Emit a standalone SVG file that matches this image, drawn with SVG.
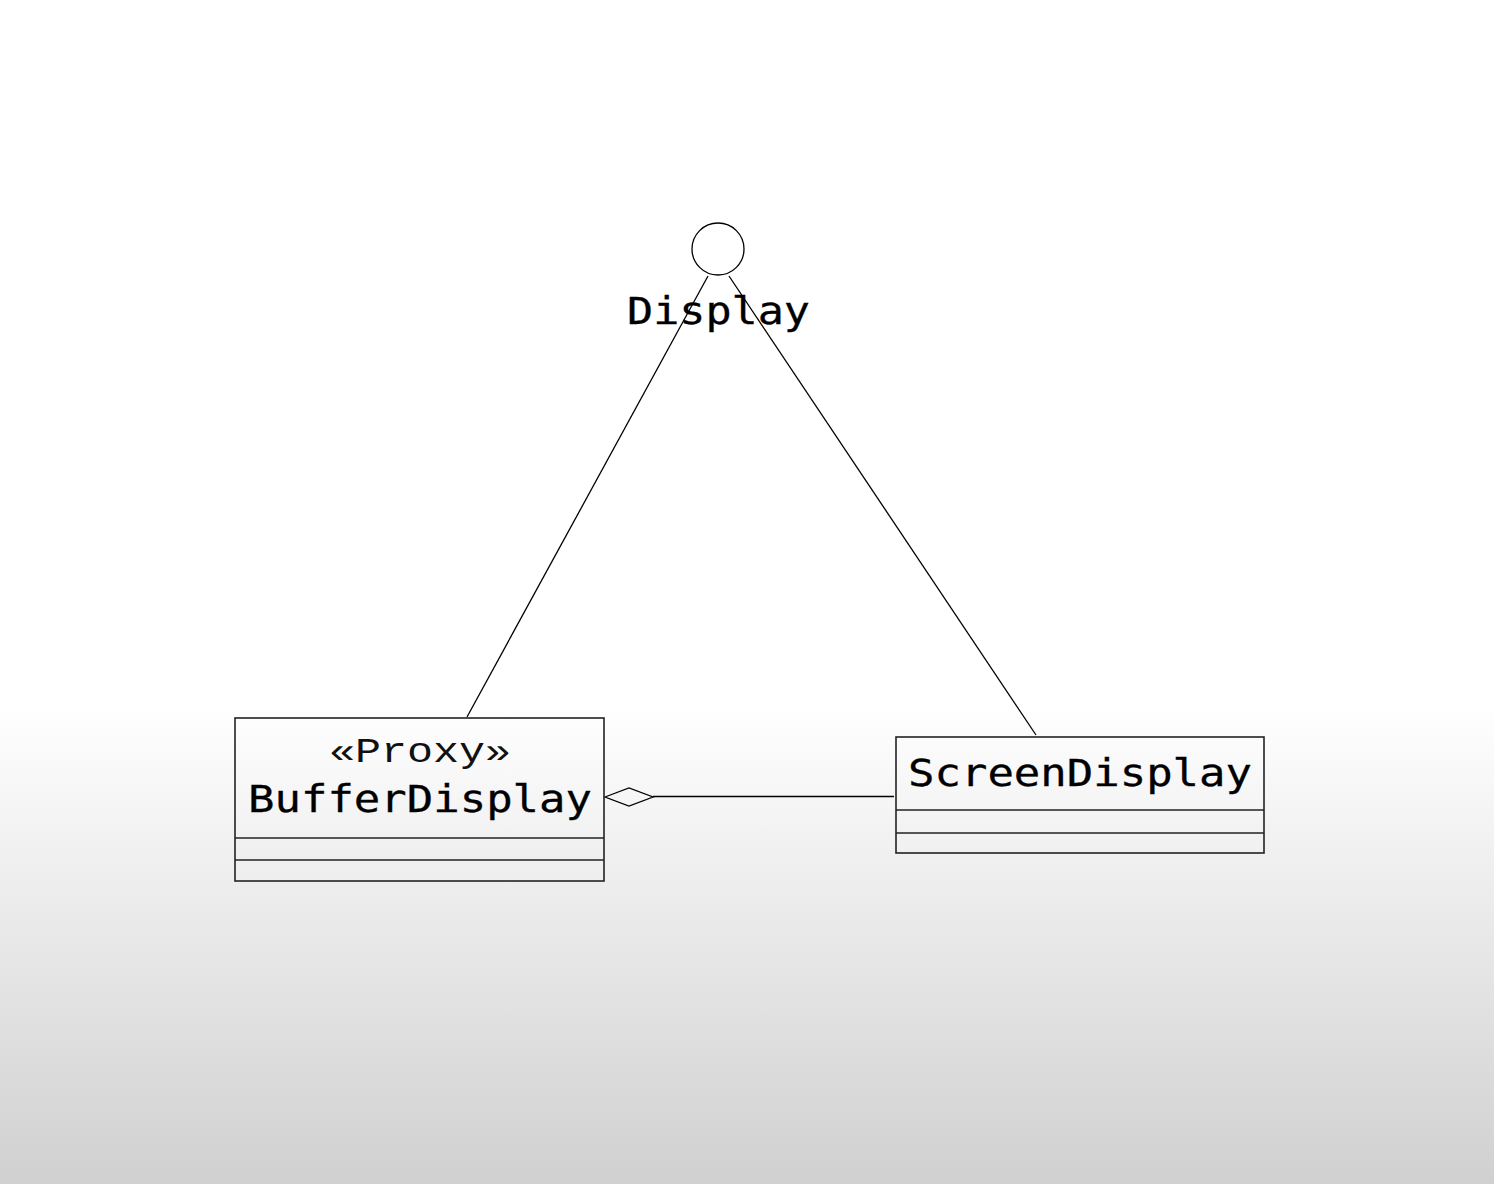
<svg xmlns="http://www.w3.org/2000/svg" width="1494" height="1184" viewBox="0 0 1494 1184">
  <defs>
    <linearGradient id="bg" x1="0" y1="0" x2="0" y2="1">
      <stop offset="0" stop-color="#ffffff"/>
      <stop offset="0.594" stop-color="#ffffff"/>
      <stop offset="1" stop-color="#d0d0d0"/>
    </linearGradient>
  </defs>
  <style>
    .ln { stroke: #000; stroke-width: 1.3; fill: none; }
    .box { stroke: #222; stroke-width: 1.6; fill: none; }
    .name { font-family: "DejaVu Sans Mono", "Liberation Mono", monospace; font-size: 37px; fill: #000; stroke: #000; stroke-width: 0.3; }
    .stereo { font-family: "Liberation Mono", "DejaVu Sans Mono", monospace; font-size: 35px; fill: #111; }
  </style>
  <rect x="0" y="0" width="1494" height="1184" fill="url(#bg)"/>

  <g id="connectors">
    <line class="ln" x1="708" y1="276" x2="467" y2="717"/>
    <line class="ln" x1="729" y1="276" x2="1036" y2="735"/>
    <polygon class="ln" points="605,797 629,788 653,797 629,806" fill="#fff"/>
    <line class="ln" x1="653" y1="796.5" x2="894" y2="796.5"/>
  </g>

  <g id="Display">
    <circle cx="718" cy="249" r="26" class="ln" fill="#fff"/>
    <text class="name" x="627" y="324" textLength="183" lengthAdjust="spacingAndGlyphs">Display</text>
  </g>

  <g id="BufferDisplay">
    <rect class="box" x="235" y="718" width="369" height="163"/>
    <line class="box" x1="235" y1="838" x2="604" y2="838"/>
    <line class="box" x1="235" y1="860" x2="604" y2="860"/>
    <text class="stereo" x="329" y="762" textLength="182" lengthAdjust="spacingAndGlyphs">«Proxy»</text>
    <text class="name" x="248" y="812" textLength="344" lengthAdjust="spacingAndGlyphs">BufferDisplay</text>
  </g>

  <g id="ScreenDisplay">
    <rect class="box" x="896" y="737" width="368" height="116"/>
    <line class="box" x1="896" y1="810" x2="1264" y2="810"/>
    <line class="box" x1="896" y1="833" x2="1264" y2="833"/>
    <text class="name" x="908" y="786" textLength="344" lengthAdjust="spacingAndGlyphs">ScreenDisplay</text>
  </g>
</svg>
